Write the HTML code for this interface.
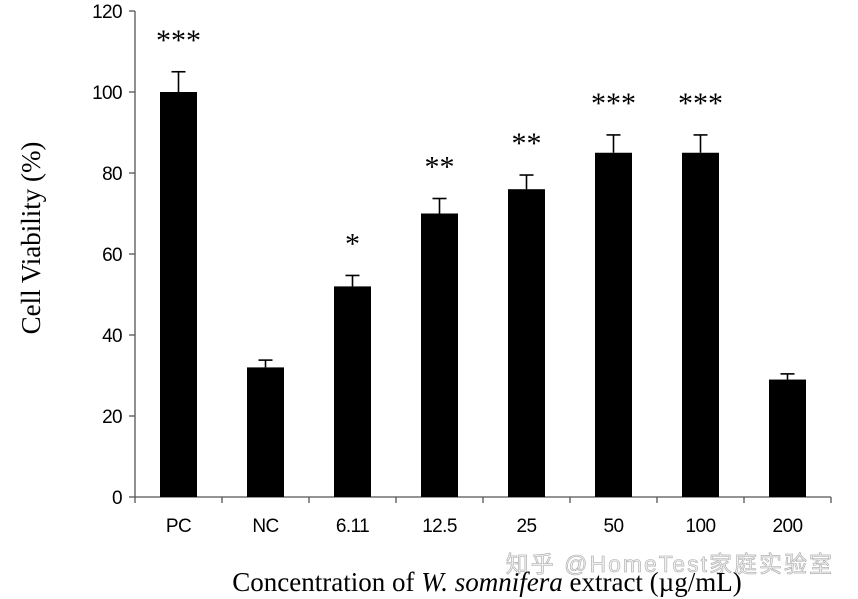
<!DOCTYPE html>
<html><head><meta charset="utf-8"><style>
body{margin:0;background:#fff;}
svg{display:block;}
</style></head><body>
<svg id="c" width="858" height="599" xmlns="http://www.w3.org/2000/svg">
<text x="40" y="238" transform="rotate(-90 40 238)" text-anchor="middle" font-family="Liberation Serif, serif" font-size="27">Cell Viability (%)</text>
<text x="834" y="572" text-anchor="end" font-family="Liberation Sans, 'Noto Sans CJK SC', sans-serif" font-size="23" letter-spacing="2" fill="#f0f0f0" stroke="#aaa" stroke-width="0.6">知乎 @HomeTest家庭实验室</text>
<text x="487" y="591" text-anchor="middle" font-family="Liberation Serif, serif" font-size="27">Concentration of <tspan font-style="italic">W. somnifera</tspan> extract (µg/mL)</text>
</svg>
<script>
const categories=["PC","NC","6.11","12.5","25","50","100","200"];
const values=[100,32,52,70,76,85,85,29];
const errors=[5,1.8,2.7,3.7,3.5,4.4,4.4,1.4];
const stars=["***","","*","**","**","***","***",""];
const yTicks=[0,20,40,60,80,100,120];
const svg=document.getElementById('c');
const NS='http://www.w3.org/2000/svg';
const x0=135,x1=831,yBase=497,yTop=11,yMax=120;
const band=(x1-x0)/categories.length;
const y=v=>yBase-(v/yMax)*(yBase-yTop);
const xc=i=>x0+band*(i+0.5);
function mk(t,a){const e=document.createElementNS(NS,t);for(const k in a)e.setAttribute(k,a[k]);svg.appendChild(e);return e;}
let e;
e=mk('line',{x1:x0,y1:yTop,x2:x0,y2:yBase,stroke:'#555','stroke-width':1.3});


e=mk('line',{x1:x0,y1:yBase,x2:x1,y2:yBase,stroke:'#555','stroke-width':1.3});


yTicks.forEach(t=>{
 e=mk('line',{x1:x0-6,y1:y(t),x2:x0,y2:y(t),stroke:'#555','stroke-width':1.3});
 
 
 e=mk('text',{x:x0-13,y:y(t)+7,'text-anchor':'end','font-family':'Liberation Sans, sans-serif','font-size':19,'letter-spacing':-0.6});
 e.textContent=t;
 
 
});
for(let i=0;i<=categories.length;i++){
 e=mk('line',{x1:x0+band*i,y1:yBase,x2:x0+band*i,y2:yBase+6,stroke:'#555','stroke-width':1.3});
 
 
}
const bw=37;
categories.forEach((c,i)=>{
 const cx=xc(i);
 e=mk('line',{x1:cx,y1:y(values[i]),x2:cx,y2:y(values[i]+errors[i]),stroke:'#000','stroke-width':1.6});
 
 
 e=mk('line',{x1:cx-7,y1:y(values[i]+errors[i]),x2:cx+7,y2:y(values[i]+errors[i]),stroke:'#000','stroke-width':1.6});
 
 
 e=mk('rect',{x:cx-bw/2,y:y(values[i]),width:bw,height:yBase-y(values[i]),fill:'#000'});
 
 
 e=mk('text',{x:cx,y:yBase+35,'text-anchor':'middle','font-family':'Liberation Sans, sans-serif','font-size':19,'letter-spacing':-0.6});
 e.textContent=c;
 
 
 if(stars[i]){
  e=mk('text',{x:cx,y:y(values[i]+errors[i])-22,'text-anchor':'middle','font-family':'Liberation Serif, serif','font-size':30});
  e.textContent=stars[i];
  
  
 }
});
</script>
</body></html>
